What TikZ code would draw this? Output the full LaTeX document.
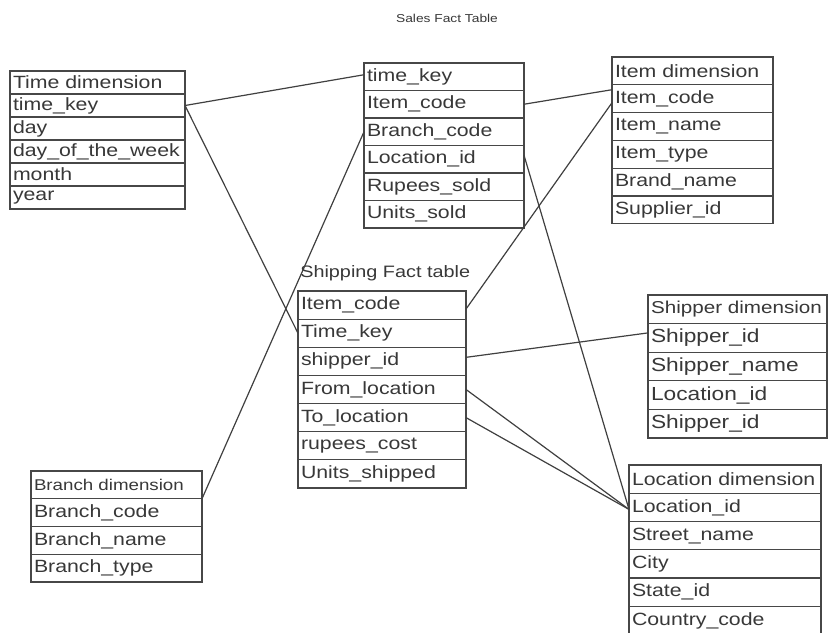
\documentclass[tikz,border=0pt]{standalone}
\usepackage{fontspec}
\setmainfont[FakeStretch=1.2]{Liberation Sans}
\usetikzlibrary{calc}
\tikzset{
  row/.style 2 args={draw=black!72, line width=0.9pt, outer sep=0pt, inner xsep=2.25pt, inner ysep=0pt,
    anchor=north west, align=left, text width=#1, minimum height=#2, text=black!78,
    font=\fontsize{13.3}{14}\selectfont},
  link/.style={draw=black!75, line width=0.9pt},
  title/.style={text=black!78, inner sep=0pt}
}
\begin{document}
\begin{tikzpicture}[x=0.75pt,y=-0.75pt]
\useasboundingbox[fill=white] (0,0) rectangle (828,632);

% titles
\node[title, font=\fontsize{8.6}{9}\selectfont] (st) at (447,18) {Sales Fact Table};
\node[title, font=\fontsize{12.4}{13}\selectfont, anchor=west] (pt) at (300,273) {Shipping Fact table};

% Time dimension
\tikzset{tr/.style={row={126.75pt}{17.25pt}}}
\node[tr] (t0) at (10,71) {Time dimension};
\node[tr] (t1) at (t0.south west) {time\_key};
\node[tr] (t2) at (t1.south west) {day};
\node[tr] (t3) at (t2.south west) {day\_of\_the\_week};
\node[tr] (t4) at (t3.south west) {month};
\node[tr] (t5) at (t4.south west) {year};

% Sales fact table
\tikzset{sr/.style={row={115.5pt}{20.625pt}}}
\node[sr] (s0) at (364,63) {time\_key};
\node[sr] (s1) at (s0.south west) {Item\_code};
\node[sr] (s2) at (s1.south west) {Branch\_code};
\node[sr] (s3) at (s2.south west) {Location\_id};
\node[sr] (s4) at (s3.south west) {Rupees\_sold};
\node[sr] (s5) at (s4.south west) {Units\_sold};

% Item dimension
\tikzset{ir/.style={row={116.25pt}{20.85pt}}}
\node[ir] (i0) at (612,57) {Item dimension};
\node[ir] (i1) at (i0.south west) {Item\_code};
\node[ir] (i2) at (i1.south west) {Item\_name};
\node[ir] (i3) at (i2.south west) {Item\_type};
\node[ir] (i4) at (i3.south west) {Brand\_name};
\node[ir] (i5) at (i4.south west) {Supplier\_id};

% Shipping fact table
\tikzset{pr/.style={row={121.5pt}{21.1pt}}}
\node[pr] (p0) at (298,291) {Item\_code};
\node[pr] (p1) at (p0.south west) {Time\_key};
\node[pr] (p2) at (p1.south west) {shipper\_id};
\node[pr] (p3) at (p2.south west) {From\_location};
\node[pr] (p4) at (p3.south west) {To\_location};
\node[pr] (p5) at (p4.south west) {rupees\_cost};
\node[pr] (p6) at (p5.south west) {Units\_shipped};

% Shipper dimension
\tikzset{hr/.style={row={129.75pt}{21.45pt}, font=\fontsize{14.2}{15}\selectfont}}
\node[hr, font=\fontsize{12.9}{14}\selectfont] (h0) at (648,295) {Shipper dimension};
\node[hr] (h1) at (h0.south west) {Shipper\_id};
\node[hr] (h2) at (h1.south west) {Shipper\_name};
\node[hr] (h3) at (h2.south west) {Location\_id};
\node[hr] (h4) at (h3.south west) {Shipper\_id};

% Branch dimension
\tikzset{br/.style={row={123.75pt}{20.8pt}}}
\node[br, font=\fontsize{11.7}{12}\selectfont] (b0) at (31,471) {Branch dimension};
\node[br] (b1) at (b0.south west) {Branch\_code};
\node[br] (b2) at (b1.south west) {Branch\_name};
\node[br] (b3) at (b2.south west) {Branch\_type};

% Location dimension
\tikzset{lr/.style={row={139.5pt}{21.2pt}}}
\node[lr] (l0) at (629,465) {Location dimension};
\node[lr] (l1) at (l0.south west) {Location\_id};
\node[lr] (l2) at (l1.south west) {Street\_name};
\node[lr] (l3) at (l2.south west) {City};
\node[lr] (l4) at (l3.south west) {State\_id};
\node[lr] (l5) at (l4.south west) {Country\_code};

% connectors
\draw[link] (t1.east) -- ($(s0.west)+(0,-2)$);
\draw[link] (t1.east) -- (p1.west);
\draw[link] (s1.east) -- ($(i1.west)+(0,-9)$);
\draw[link] ($(i1.west)+(0,4)$) -- ($(p0.east)+(0,4)$);
\draw[link] (s2.west) -- (b0.south east);
\draw[link] ($(s3.east)+(0,-4)$) -- ($(l1.west)+(0,2)$);
\draw[link] ($(p2.east)+(0,-4)$) -- ($(h1.west)+(0,-5)$);
\draw[link] (p3.east) -- ($(l1.west)+(0,2)$);
\draw[link] (p4.east) -- ($(l1.west)+(0,2)$);
\end{tikzpicture}
\end{document}
